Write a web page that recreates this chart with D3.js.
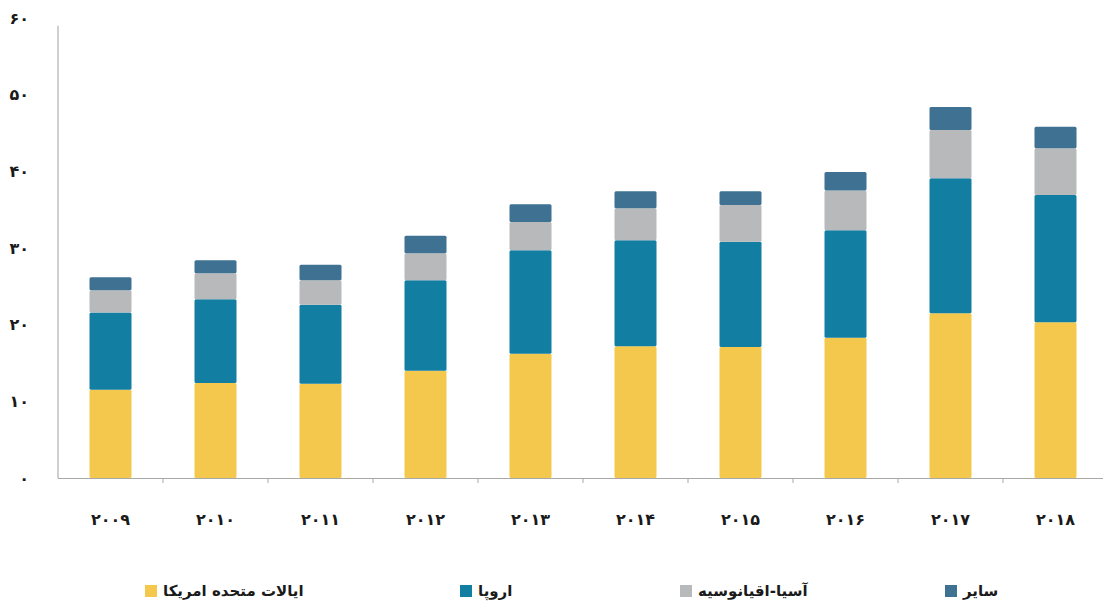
<!DOCTYPE html>
<html><head><meta charset="utf-8">
<script src="https://cdn.jsdelivr.net/npm/d3@7"></script>
<style>
body{margin:0;background:#fff;}
text{font-family:"DejaVu Sans",sans-serif;font-weight:bold;fill:#1a1a1a;}
</style></head>
<body><svg id="c" width="1103" height="605"></svg>
<script>
const years = ["2009","2010","2011","2012","2013","2014","2015","2016","2017","2018"];
const yearLabels = ["۲۰۰۹","۲۰۱۰","۲۰۱۱","۲۰۱۲","۲۰۱۳","۲۰۱۴","۲۰۱۵","۲۰۱۶","۲۰۱۷","۲۰۱۸"];
const usa =    [11.5,12.4,12.3,14.0,16.2,17.2,17.1,18.3,21.5,20.3];
const europe = [10.1,10.9,10.3,11.8,13.5,13.8,13.7,14.0,17.6,16.6];
const asia =   [2.9,3.4,3.2,3.5,3.7,4.2,4.8,5.2,6.3,6.1];
const other =  [1.7,1.7,2.0,2.3,2.3,2.2,1.8,2.4,3.0,2.8];
const seriesNames = ["ایالات متحده امریکا","اروپا","آسیا-اقیانوسیه","سایر"];
const yTicks = [0,10,20,30,40,50,60];
const yTickLabels = ["۰","۱۰","۲۰","۳۰","۴۰","۵۰","۶۰"];
const colors = ["#f4c84c","#127ea1","#b8b9bb","#3e7192"];

const keys = ["usa","europe","asia","other"];
const rows = years.map((y,i)=>({year:y,usa:usa[i],europe:europe[i],asia:asia[i],other:other[i]}));
const stacked = d3.stack().keys(keys)(rows);

const svg = d3.select("#c");
const x = d3.scaleBand().domain(years).range([58,1108]).paddingInner(0.6).paddingOuter(0.3);
const y = d3.scaleLinear().domain([0,60]).range([478,18]);

// bars
svg.append("g").selectAll("g").data(stacked).join("g")
  .attr("fill",(d,i)=>colors[i])
  .selectAll("rect").data(d=>d).join("rect")
  .attr("x",d=>x(d.data.year))
  .attr("width",x.bandwidth())
  .attr("y",d=>y(d[1]))
  .attr("height",d=>y(d[0])-y(d[1]))
  .attr("rx",1.5);

// axes lines
svg.append("line").attr("x1",58).attr("x2",58).attr("y1",y(59)).attr("y2",y(0))
  .attr("stroke","#b0b0b0").attr("stroke-width",1.2);
svg.append("line").attr("x1",58).attr("x2",1106).attr("y1",y(0)+0.5).attr("y2",y(0)+0.5)
  .attr("stroke","#a8a8a8").attr("stroke-width",1.2);
// x ticks at band boundaries
const step = x.step();
svg.append("g").selectAll("line").data(years.slice(1)).join("line")
  .attr("x1",d=>x(d)-(step-x.bandwidth())/2).attr("x2",d=>x(d)-(step-x.bandwidth())/2)
  .attr("y1",y(0)).attr("y2",y(0)+5).attr("stroke","#a8a8a8");

// y labels
svg.append("g").selectAll("text").data(yTicks).join("text")
  .attr("x",29).attr("y",d=>y(d)).attr("dy","0.35em")
  .attr("text-anchor","end").attr("font-size",16)
  .text((d,i)=>yTickLabels[i]);

// x labels
svg.append("g").selectAll("text").data(years).join("text")
  .attr("x",d=>x(d)+x.bandwidth()/2).attr("y",519).attr("dy","0.35em")
  .attr("text-anchor","middle").attr("font-size",16)
  .text((d,i)=>yearLabels[i]);

// legend
const legendX = [145,460,680,945];
const lg = svg.append("g").selectAll("g").data(seriesNames).join("g")
  .attr("transform",(d,i)=>`translate(${legendX[i]},591)`);
lg.append("rect").attr("x",0).attr("y",-6).attr("width",12).attr("height",12)
  .attr("fill",(d,i)=>colors[i]);
lg.append("text").attr("x",18).attr("y",0).attr("dy","0.35em")
  .attr("font-size",15).attr("text-anchor","start").text(d=>d);
</script></body></html>
